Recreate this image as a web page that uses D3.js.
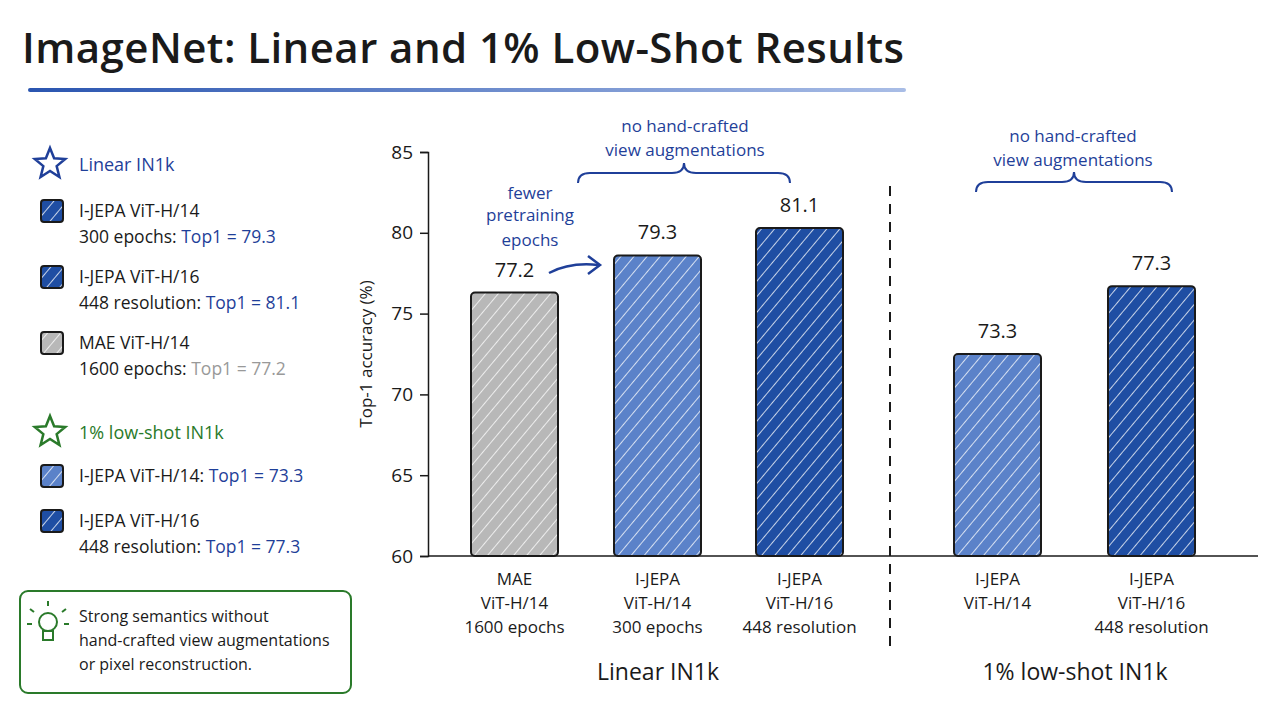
<!DOCTYPE html>
<html><head><meta charset="utf-8">
<script src="https://cdn.jsdelivr.net/npm/d3@7"></script>
<style>body{margin:0;background:#fff}text{font-family:"Open Sans",sans-serif}</style>
</head><body><svg id="c" width="1280" height="720"></svg>
<script>
// values
const categories = ["MAE|ViT-H/14|1600 epochs","I-JEPA|ViT-H/14|300 epochs","I-JEPA|ViT-H/16|448 resolution","I-JEPA|ViT-H/14","I-JEPA|ViT-H/16|448 resolution"];
const barHeights = [76.3, 78.6, 80.3, 72.5, 76.7];
const labels = ["77.2","79.3","81.1","73.3","77.3"];
const colors = ["#b8b8b8","#5b82c9","#1f4ea3","#5b82c9","#1f4ea3"];
const yTicks = [60,65,70,75,80,85];
const barX = [471, 614, 756, 954, 1108];

const svg = d3.select("#c");
const y = d3.scaleLinear().domain([60,85]).range([556,152]);
const ink = "#1a1a1a", blue = "#1f3f99", green = "#2a7a2a";

// hatch patterns
const defs = svg.append("defs");
colors.forEach((c,i) => {
  const p = defs.append("pattern").attr("id","h"+i).attr("patternUnits","userSpaceOnUse")
    .attr("width",10).attr("height",10).attr("patternTransform","rotate(40)");
  p.append("rect").attr("width",10).attr("height",10).attr("fill",c);
  p.append("line").attr("x1",0).attr("y1",0).attr("x2",0).attr("y2",10)
    .attr("stroke","#fff").attr("stroke-width",2).attr("opacity",0.75);
});
const grad = defs.append("linearGradient").attr("id","ul");
grad.append("stop").attr("offset","0%").attr("stop-color","#2a55b0");
grad.append("stop").attr("offset","100%").attr("stop-color","#a9bde6");

// title
svg.append("text").attr("x",22).attr("y",63).attr("font-size",42).attr("font-weight",600).attr("fill",ink)
  .attr("textLength",882).text("ImageNet: Linear and 1% Low-Shot Results");
svg.append("rect").attr("x",28).attr("y",88).attr("width",878).attr("height",4).attr("rx",2).attr("fill","url(#ul)");

// axes
svg.append("g").attr("transform","translate(428,0)")
  .call(d3.axisLeft(y).tickValues(yTicks).tickSize(8))
  .call(g => g.selectAll("text").attr("font-size",19).attr("fill",ink).attr("dx",-4))
  .call(g => g.selectAll("line,path").attr("stroke",ink).attr("stroke-width",1.5));
svg.append("line").attr("x1",428).attr("x2",1258).attr("y1",556).attr("y2",556).attr("stroke",ink).attr("stroke-width",1.5);
svg.append("text").attr("transform","translate(372,354) rotate(-90)").attr("text-anchor","middle")
  .attr("font-size",17).attr("fill",ink).text("Top-1 accuracy (%)");

// bars
const bw = 87;
barHeights.forEach((v,i) => {
  svg.append("rect").attr("x",barX[i]).attr("y",y(v)).attr("width",bw).attr("height",556-y(v))
    .attr("rx",4).attr("fill","url(#h"+i+")").attr("stroke",ink).attr("stroke-width",2);
  svg.append("text").attr("x",barX[i]+bw/2).attr("y",y(v)-16).attr("text-anchor","middle")
    .attr("font-size",20).attr("fill",ink).text(labels[i]);
  categories[i].split("|").forEach((t,j) => {
    svg.append("text").attr("x",barX[i]+bw/2).attr("y",585+j*24).attr("text-anchor","middle")
      .attr("font-size",17).attr("fill",ink).text(t);
  });
});

// divider
svg.append("line").attr("x1",890).attr("x2",890).attr("y1",186).attr("y2",650)
  .attr("stroke",ink).attr("stroke-width",2).attr("stroke-dasharray","10,8");
svg.append("text").attr("x",658).attr("y",680).attr("text-anchor","middle").attr("font-size",23).attr("fill",ink).text("Linear IN1k");
svg.append("text").attr("x",1075).attr("y",680).attr("text-anchor","middle").attr("font-size",23).attr("fill",ink).text("1% low-shot IN1k");

// braces and annotations
function brace(x1,x2,yb,m){
  svg.append("path").attr("fill","none").attr("stroke",blue).attr("stroke-width",2)
    .attr("d",`M${x1},${yb+10} Q${x1},${yb} ${x1+12},${yb} L${m-12},${yb} Q${m},${yb} ${m},${yb-10} Q${m},${yb} ${m+12},${yb} L${x2-12},${yb} Q${x2},${yb} ${x2},${yb+10}`);
}
brace(578,790,173,684);
brace(976,1172,182,1074);
[["no hand-crafted",132],["view augmentations",156]].forEach(([t,yy]) => {
  svg.append("text").attr("x",685).attr("y",yy).attr("text-anchor","middle").attr("font-size",17).attr("fill",blue).text(t);
  svg.append("text").attr("x",1073).attr("y",yy+10).attr("text-anchor","middle").attr("font-size",17).attr("fill",blue).text(t);
});
[["fewer",199],["pretraining",221],["epochs",246]].forEach(([t,yy]) =>
  svg.append("text").attr("x",530).attr("y",yy).attr("text-anchor","middle").attr("font-size",17).attr("fill",blue).text(t));
svg.append("path").attr("fill","none").attr("stroke",blue).attr("stroke-width",2.5)
  .attr("d","M549,273 Q570,262 598,265");
svg.append("path").attr("fill","none").attr("stroke",blue).attr("stroke-width",2.5)
  .attr("d","M588,256 L600,265 L588,274");

// legend
function star(cx,cy,col){
  const pts = d3.range(10).map(k => {
    const r = k%2 ? 7 : 16, a = -Math.PI/2 + k*Math.PI/5;
    return [cx+r*Math.cos(a), cy+r*Math.sin(a)];
  });
  svg.append("path").attr("d",d3.line()(pts)+"Z").attr("fill","#fff").attr("stroke",col).attr("stroke-width",2.5);
}
star(50,164,blue); star(50,432,green);
svg.append("text").attr("x",79).attr("y",171).attr("font-size",18).attr("fill",blue).text("Linear IN1k");
svg.append("text").attr("x",79).attr("y",439).attr("font-size",18).attr("fill",green).text("1% low-shot IN1k");

const legItems = [
  [2,209,"I-JEPA ViT-H/14","300 epochs: ","Top1 = 79.3",blue],
  [2,275,"I-JEPA ViT-H/16","448 resolution: ","Top1 = 81.1",blue],
  [0,341,"MAE ViT-H/14","1600 epochs: ","Top1 = 77.2","#999"],
  [1,474,"I-JEPA ViT-H/14: ","","Top1 = 73.3",blue],
  [2,519,"I-JEPA ViT-H/16","448 resolution: ","Top1 = 77.3",blue]
];
legItems.forEach(([ci,yy,l1,l2,l3,col]) => {
  svg.append("rect").attr("x",41).attr("y",yy-9).attr("width",22).attr("height",22).attr("rx",3)
    .attr("fill","url(#h"+ci+")").attr("stroke",ink).attr("stroke-width",2);
  if (l2 === "") {
    const t = svg.append("text").attr("x",79).attr("y",yy+8).attr("font-size",17.5).attr("fill",ink);
    t.append("tspan").text(l1); t.append("tspan").attr("fill",col).text(l3);
  } else {
    svg.append("text").attr("x",79).attr("y",yy+8).attr("font-size",17.5).attr("fill",ink).text(l1);
    const t = svg.append("text").attr("x",79).attr("y",yy+34).attr("font-size",17.5).attr("fill",ink);
    t.append("tspan").text(l2); t.append("tspan").attr("fill",col).text(l3);
  }
});

// note box
svg.append("rect").attr("x",20).attr("y",591).attr("width",331).attr("height",102).attr("rx",8)
  .attr("fill","#fff").attr("stroke",green).attr("stroke-width",2);
svg.append("circle").attr("cx",48).attr("cy",622).attr("r",9).attr("fill","#fff").attr("stroke",green).attr("stroke-width",2);
svg.append("rect").attr("x",43).attr("y",631).attr("width",10).attr("height",9).attr("fill","none").attr("stroke",green).attr("stroke-width",2);
[[48,606,48,601],[34,612,30,609],[62,612,66,609],[32,624,27,624],[64,624,69,624]].forEach(d =>
  svg.append("line").attr("x1",d[0]).attr("y1",d[1]).attr("x2",d[2]).attr("y2",d[3]).attr("stroke",green).attr("stroke-width",2));
["Strong semantics without","hand-crafted view augmentations","or pixel reconstruction."].forEach((t,i) =>
  svg.append("text").attr("x",79).attr("y",622+i*24).attr("font-size",16).attr("fill",ink).text(t));
</script></body></html>
